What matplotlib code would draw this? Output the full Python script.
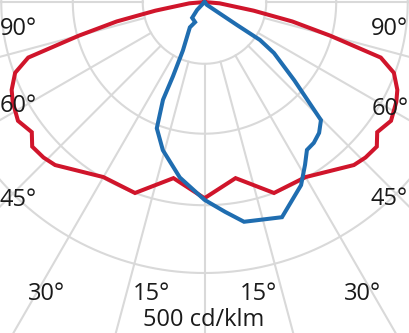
import numpy as np
import matplotlib
matplotlib.use("Agg")
import matplotlib.pyplot as plt

plt.rcParams['font.family'] = ['Open Sans', 'DejaVu Sans']

# ---- data (cd/klm, angle in degrees from nadir, + = right side) ----
red_angles = [0, 10, 20, 30, 42.5, 46, 50, 53, 57.5, 62.5, 65.5, 69.5, 72.5, 75, 77.5, 80, 85, 90]
red_values = [362, 330, 375, 373, 408, 413, 415, 399, 408, 399, 391, 373, 341, 240, 166, 92, 28, 0]

blue_angles = [-45, -43, -38, -25, -30, -24, -23, -23, -20.7, -15.7, -8, 0, 5.6, 10.2, 19.8,
               27.8, 31.7, 34.7, 37.8, 41.2, 44.6, 48.9, 53.7, 55.6, 54.7, 40, 45]
blue_values = [0, 20, 37, 41, 54, 98, 149, 196, 249, 284, 327, 365, 389, 412, 422,
               382, 353, 332, 329, 321, 306, 220, 159, 124, 74, 7, 0]

ring_values = [114, 243, 375, 500]
spoke_angles = [-90, -75, -60, -45, -30, -15, 0, 15, 30, 45, 60, 75, 90]
left_labels = ["90°", "60°", "45°", "30°", "15°"]
right_labels = ["90°", "60°", "45°", "30°", "15°"]
scale_label = "500 cd/klm"

RED = "#d0152b"
BLUE = "#1f6db0"
GRID = "#d9d9d9"

W, H = 409, 333
cx, cy = 204.5, 2.0            # pixel position of the polar origin
k = 271.0 / 500.0              # pixels per cd/klm

fig = plt.figure(figsize=(W / 100, H / 100), dpi=100)
ax = fig.add_axes([0, 0, 1, 1])
ax.set_xlim(-cx / k, (W - cx) / k)
ax.set_ylim(-(H - cy) / k, cy / k)
ax.axis('off')


def polar_xy(ang, val):
    a = np.radians(np.asarray(ang, float))
    v = np.asarray(val, float)
    return v * np.sin(a), -v * np.cos(a)


# grid rings
t = np.linspace(0, 2 * np.pi, 721)
for rv in ring_values:
    ax.plot(rv * np.cos(t), rv * np.sin(t), color=GRID, lw=1.5, zorder=1)
# spokes (start at first ring)
for sa in spoke_angles:
    x, y = polar_xy([sa, sa], [ring_values[0], 900])
    ax.plot(x, y, color=GRID, lw=1.5, zorder=1)

# red curve: symmetric
ra = [-a for a in red_angles[::-1]] + red_angles[1:]
rv_ = red_values[::-1] + red_values[1:]
x, y = polar_xy(ra, rv_)
ax.plot(x, y, color=RED, lw=2.9, zorder=3, solid_joinstyle='miter')

x, y = polar_xy(blue_angles, blue_values)
ax.plot(x, y, color=BLUE, lw=2.9, zorder=4, solid_joinstyle='miter')

# angle labels (pixel positions -> figure fraction)
fs = 17
lpos = [(0, 29), (0, 106), (0, 200), (28, 294), (133, 294)]
rpos = [(408, 29), (409, 109), (408, 199), (381, 294), (277, 294)]
for (px, py), s in zip(lpos, left_labels):
    fig.text(px / W, 1 - py / H, s, ha='left', va='center', fontsize=fs, color='#1a1a1a')
for (px, py), s in zip(rpos, right_labels):
    fig.text(px / W, 1 - py / H, s, ha='right', va='center', fontsize=fs, color='#1a1a1a')
fig.text(204 / W, 1 - 320 / H, scale_label, ha='center', va='center', fontsize=fs, color='#1a1a1a')

fig.savefig("out.png", dpi=100)
